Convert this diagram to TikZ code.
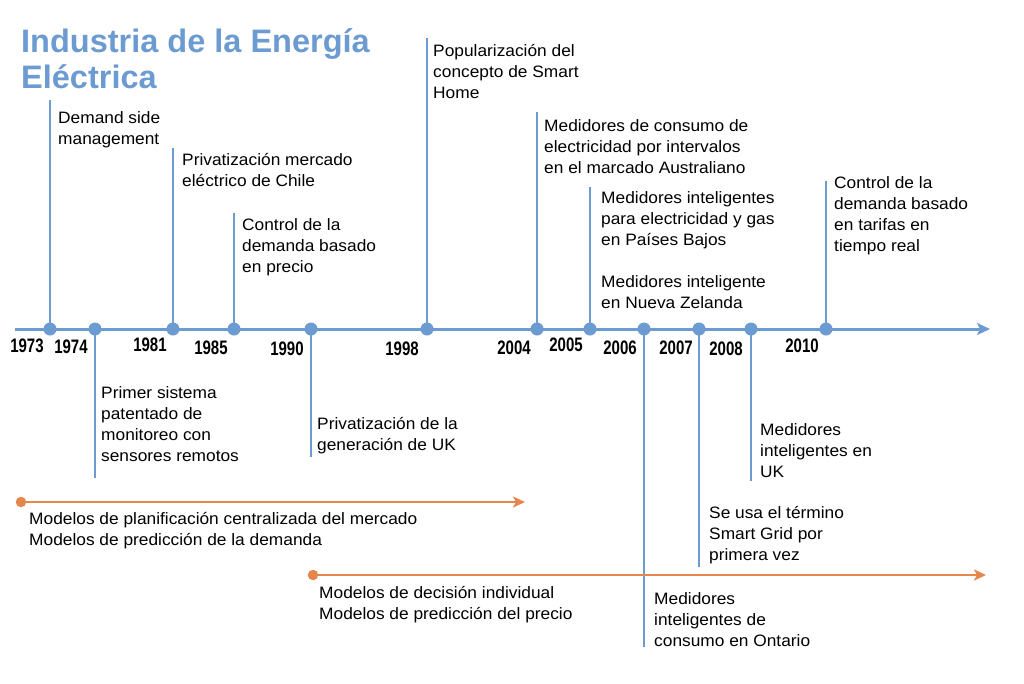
\documentclass[tikz,border=0pt]{standalone}
\usepackage{fontspec}
\setmainfont{Liberation Sans}
\newfontfamily\bodyfam[FakeStretch=1.05]{Liberation Sans}
\newfontfamily\yearfam[FakeStretch=0.77]{Liberation Sans}
\usetikzlibrary{arrows.meta}
\definecolor{tlblue}{RGB}{108,155,210}
\definecolor{tlorange}{RGB}{229,135,76}
\newcommand\myst{\rule{0pt}{17pt}}
\newcommand\tst{\rule{0pt}{32pt}}
\tikzset{
  axisline/.style={draw=tlblue, line width=3pt, -{Stealth[length=13pt,width=12pt,inset=3pt]}},
  vline/.style={draw=tlblue, line width=1.8pt},
  bdot/.style={circle, fill=tlblue, inner sep=0pt, minimum size=13pt},
  odot/.style={circle, fill=tlorange, inner sep=0pt, minimum size=10.5pt},
  oline/.style={draw=tlorange, line width=2.6pt, -{Stealth[length=12pt,width=11pt,inset=3pt]}},
  lbl/.style={anchor=north west, inner sep=0pt, align=left, text=black,
    font=\bodyfam\fontsize{16.5}{21}\selectfont},
  yr/.style={anchor=center, inner sep=0pt, text=black,
    font=\yearfam\bfseries\fontsize{19.5}{20}\selectfont},
  ttl/.style={anchor=north west, inner sep=0pt, align=left, text=tlblue,
    font=\bfseries\fontsize{32.5}{36}\selectfont}
}
\begin{document}
\begin{tikzpicture}[x=1pt,y=-1pt]
\fill[white] (0,0) rectangle (1024,683);
\useasboundingbox (0,0) rectangle (1024,683);

% title
\node[ttl] (title) at (21,20.6) {\tst Industria de la Energía\\Eléctrica};

% axis
\coordinate (axs) at (15,329);
\coordinate (axe) at (990,329);
\draw[axisline] (axs) -- (axe);

% line ends
\coordinate (t1) at (50,100);
\coordinate (t2) at (95,478);
\coordinate (t3) at (173,148);
\coordinate (t4) at (234,213);
\coordinate (t5) at (311,457);
\coordinate (t6) at (427,38);
\coordinate (t7) at (537,112);
\coordinate (t8) at (590,187);
\coordinate (t9) at (644,647);
\coordinate (t10) at (699,567);
\coordinate (t11) at (751,481);
\coordinate (t12) at (826,181);

% dot positions
\path (50,329) coordinate (p1) (95,329) coordinate (p2) (173,329) coordinate (p3)
      (234,329) coordinate (p4) (311,329) coordinate (p5) (427,329) coordinate (p6)
      (537,329) coordinate (p7) (590,329) coordinate (p8) (644,329) coordinate (p9)
      (699,329) coordinate (p10) (751,329) coordinate (p11) (826,329) coordinate (p12);

\foreach \i in {1,...,12} {\draw[vline] (p\i) -- (t\i);}
\foreach \i in {1,...,12} {\node[bdot] (d\i) at (p\i) {};}

% years
\node[yr] (y1) at (27,346) {1973};
\node[yr] (y2) at (71,347) {1974};
\node[yr] (y3) at (150,345) {1981};
\node[yr] (y4) at (211,348) {1985};
\node[yr] (y5) at (287,349) {1990};
\node[yr] (y6) at (402,349) {1998};
\node[yr] (y7) at (514,348) {2004};
\node[yr] (y8) at (566,345) {2005};
\node[yr] (y9) at (620,348) {2006};
\node[yr] (y10) at (676,348) {2007};
\node[yr] (y11) at (726,349) {2008};
\node[yr] (y12) at (802,346) {2010};

% event labels
\node[lbl] (l1) at (58,106) {\myst Demand side\\management};
\node[lbl] (l2) at (101,381) {\myst Primer sistema\\patentado de\\monitoreo con\\sensores remotos};
\node[lbl] (l3) at (182,148) {\myst Privatización mercado\\eléctrico de Chile};
\node[lbl] (l4) at (242,213) {\myst Control de la\\demanda basado\\en precio};
\node[lbl] (l5) at (317,412) {\myst Privatización de la\\generación de UK};
\node[lbl] (l6) at (433,39) {\myst Popularización del\\concepto de Smart\\Home};
\node[lbl] (l7) at (544,114) {\myst Medidores de consumo de\\electricidad por intervalos\\en el marcado Australiano};
\node[lbl] (l8) at (601,186) {\myst Medidores inteligentes\\para electricidad y gas\\en Países Bajos};
\node[lbl] (l8b) at (601,270) {\myst Medidores inteligente\\en Nueva Zelanda};
\node[lbl] (l9) at (654,587) {\myst Medidores\\inteligentes de\\consumo en Ontario};
\node[lbl] (l10) at (709,501) {\myst Se usa el término\\Smart Grid por\\primera vez};
\node[lbl] (l11) at (760,418) {\myst Medidores\\inteligentes en\\UK};
\node[lbl] (l12) at (834,171) {\myst Control de la\\demanda basado\\en tarifas en\\tiempo real};

% orange periods
\node[odot] (o1) at (21,502) {};
\coordinate (o1e) at (525,502);
\draw[oline] (o1) -- (o1e);
\node[lbl] (m1) at (29,507) {\myst Modelos de planificación centralizada del mercado\\Modelos de predicción de la demanda};

\node[odot] (o2) at (313,575) {};
\coordinate (o2e) at (986,575);
\draw[oline] (o2) -- (o2e);
\node[lbl] (m2) at (319,581) {\myst Modelos de decisión individual\\Modelos de predicción del precio};
\end{tikzpicture}
\end{document}
